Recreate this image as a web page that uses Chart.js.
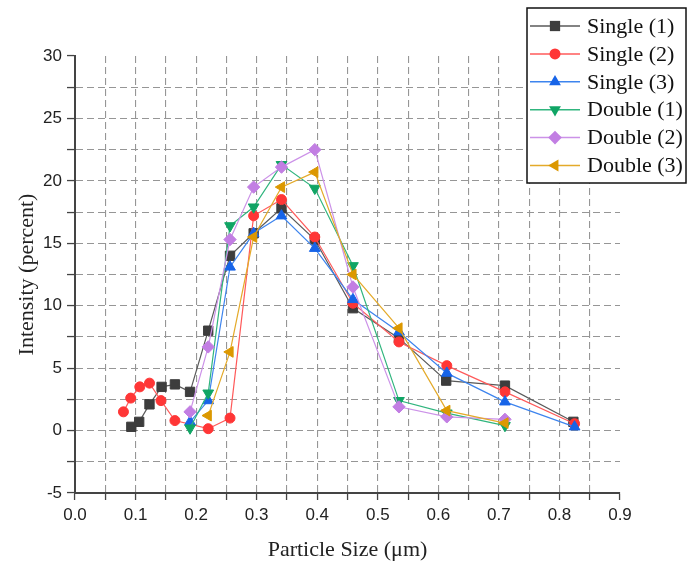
<!DOCTYPE html>
<html>
<head>
<meta charset="utf-8">
<script src="https://cdn.jsdelivr.net/npm/chart.js@4/dist/chart.umd.min.js"></script>
<style>
html, body { margin: 0; padding: 0; background: #fff; }
canvas { display: block; }
</style>
</head>
<body>
<canvas id="myChart" width="687" height="563"></canvas>
<script>
// series names, in legend order
const seriesNames = ["Single (1)", "Single (2)", "Single (3)", "Double (1)", "Double (2)", "Double (3)"];

// particle size (um) and intensity (percent)
const single1X = [0.093, 0.106, 0.123, 0.143, 0.165, 0.19, 0.22, 0.256, 0.295, 0.341, 0.396, 0.459, 0.535, 0.613, 0.71, 0.823];
const single1Y = [0.3, 0.7, 2.1, 3.5, 3.7, 3.1, 8.0, 14.0, 15.8, 17.8, 15.3, 9.8, 7.4, 4.0, 3.6, 0.7];

const single2X = [0.08, 0.092, 0.107, 0.123, 0.142, 0.165, 0.22, 0.256, 0.295, 0.341, 0.396, 0.459, 0.535, 0.614, 0.71, 0.825];
const single2Y = [1.5, 2.6, 3.5, 3.8, 2.4, 0.8, 0.15, 1.0, 17.2, 18.5, 15.5, 10.2, 7.1, 5.2, 3.1, 0.55];

const single3X = [0.19, 0.22, 0.256, 0.295, 0.341, 0.396, 0.459, 0.535, 0.614, 0.71, 0.825];
const single3Y = [0.7, 2.4, 13.1, 15.8, 17.2, 14.6, 10.5, 7.9, 4.6, 2.3, 0.3];

const double1X = [0.19, 0.22, 0.256, 0.295, 0.341, 0.396, 0.459, 0.535, 0.614, 0.71];
const double1Y = [0.2, 3.0, 16.4, 17.9, 21.3, 19.4, 13.2, 2.4, 1.4, 0.4];

const double2X = [0.19, 0.22, 0.256, 0.295, 0.341, 0.396, 0.459, 0.535, 0.614, 0.71];
const double2Y = [1.5, 6.7, 15.3, 19.5, 21.1, 22.5, 11.5, 1.9, 1.1, 0.9];

const double3X = [0.22, 0.256, 0.295, 0.341, 0.396, 0.459, 0.535, 0.614, 0.71];
const double3Y = [1.2, 6.3, 15.5, 19.5, 20.7, 12.5, 8.2, 1.6, 0.6];

const xValues = [single1X, single2X, single3X, double1X, double2X, double3X];
const yValues = [single1Y, single2Y, single3Y, double1Y, double2Y, double3Y];

// styles
const markColors = ["#3d3d3d", "#ff3636", "#1764e8", "#10a565", "#c27ee3", "#dc9800"];
const lineColors = ["#5a5a5a", "#ff5a5a", "#3d84ee", "#30b57e", "#cc92e8", "#e4aa2a"];
const pointStyles = ["rect", "circle", "triangle", "triangle", "rectRot", "triangle"];
const pointRotations = [0, 0, 0, 180, 0, 270];
const pointRadii = [6.6, 5, 6.2, 6.2, 6.2, 6.2];

const datasets = seriesNames.map((name, i) => {
    let pts = [];
    for (let j = 0; j < xValues[i].length; j++) {
        pts.push({ x: xValues[i][j], y: yValues[i][j] });
    }
    return {
        label: name,
        data: pts,
        borderColor: lineColors[i],
        borderWidth: 1.2,
        backgroundColor: markColors[i],
        pointBackgroundColor: markColors[i],
        pointBorderColor: markColors[i],
        pointBorderWidth: 1,
        pointStyle: pointStyles[i],
        pointRotation: pointRotations[i],
        pointRadius: pointRadii[i],
        tension: 0,
        order: 5 - i
    };
});

function drawMarker(ctx, style, rot, x, y, r, color) {
    ctx.save();
    ctx.translate(x, y);
    ctx.rotate(rot * Math.PI / 180);
    ctx.fillStyle = color;
    ctx.beginPath();
    if (style === "rect") {
        let s = r * Math.SQRT1_2;
        ctx.rect(-s, -s, 2 * s, 2 * s);
    } else if (style === "circle") {
        ctx.arc(0, 0, r, 0, Math.PI * 2);
    } else if (style === "rectRot") {
        ctx.moveTo(0, -r); ctx.lineTo(r, 0); ctx.lineTo(0, r); ctx.lineTo(-r, 0);
    } else {
        for (let k = 0; k < 3; k++) {
            let a = k * 2 * Math.PI / 3;
            ctx.lineTo(Math.sin(a) * r, -Math.cos(a) * r);
        }
    }
    ctx.closePath();
    ctx.fill();
    ctx.restore();
}

const boxLegend = {
    id: "boxLegend",
    afterDraw(chart) {
        const ctx = chart.ctx;
        ctx.save();
        ctx.fillStyle = "#fff";
        ctx.fillRect(527, 8, 159, 175);
        ctx.strokeStyle = "#111";
        ctx.lineWidth = 1.5;
        ctx.strokeRect(527, 8, 159, 175);
        ctx.font = "22px 'Liberation Serif', 'Times New Roman', serif";
        ctx.textBaseline = "middle";
        for (let i = 0; i < seriesNames.length; i++) {
            let y = 26 + i * 27.9;
            ctx.strokeStyle = lineColors[i];
            ctx.lineWidth = 1.5;
            ctx.beginPath();
            ctx.moveTo(530, y);
            ctx.lineTo(580, y);
            ctx.stroke();
            drawMarker(ctx, pointStyles[i], pointRotations[i], 555, y, pointRadii[i] * 1.1, markColors[i]);
            ctx.fillStyle = "#111";
            ctx.fillText(seriesNames[i], 587, y + 1);
        }
        ctx.restore();
    }
};

const gridColor = "#969696";
const axisColor = "#444";

const ctx = document.getElementById("myChart").getContext("2d");
const myChart = new Chart(ctx, {
    type: "line",
    data: { datasets: datasets },
    plugins: [boxLegend],
    options: {
        responsive: false,
        animation: false,
        layout: { padding: { left: 0, right: 67, top: 56, bottom: 0 } },
        plugins: {
            legend: { display: false },
            tooltip: { enabled: false }
        },
        scales: {
            x: {
                type: "linear",
                min: 0,
                max: 0.9,
                afterFit: (scale) => { scale.height = 70; },
                ticks: {
                    stepSize: 0.05,
                    autoSkip: false,
                    maxRotation: 0,
                    padding: 5,
                    color: "#222",
                    font: { family: "'Liberation Sans', Arial, sans-serif", size: 17 },
                    callback: (v) => (Math.round(v * 100) % 10 === 0 ? v.toFixed(1) : "")
                },
                grid: {
                    color: (c) => {
                        let v = c.tick ? Math.round(c.tick.value * 100) : 0;
                        return (v === 0 || v === 90) ? "rgba(0,0,0,0)" : gridColor;
                    },
                    lineWidth: 1.1,
                    drawTicks: true,
                    tickLength: 7,
                    tickColor: axisColor,
                    tickWidth: 1.3
                },
                border: { display: true, color: axisColor, width: 2, dash: [7, 4] },
                title: {
                    display: true,
                    text: "Particle Size (\u03bcm)",
                    color: "#222",
                    font: { family: "'Liberation Serif', 'Times New Roman', serif", size: 22 },
                    padding: { top: 4, bottom: 0 }
                }
            },
            y: {
                min: -5,
                max: 30,
                afterFit: (scale) => { scale.width = 75; },
                ticks: {
                    stepSize: 2.5,
                    autoSkip: false,
                    padding: 5,
                    color: "#222",
                    font: { family: "'Liberation Sans', Arial, sans-serif", size: 17 },
                    callback: (v) => (Math.round(v * 10) % 50 === 0 ? String(v) : "")
                },
                grid: {
                    color: (c) => {
                        let v = c.tick ? c.tick.value : 0;
                        return (v === -5 || v === 30) ? "rgba(0,0,0,0)" : gridColor;
                    },
                    lineWidth: 1.1,
                    drawTicks: true,
                    tickLength: 8,
                    tickColor: axisColor,
                    tickWidth: 1.3
                },
                border: { display: true, color: axisColor, width: 2, dash: [7, 4] },
                title: {
                    display: true,
                    text: "Intensity (percent)",
                    color: "#222",
                    font: { family: "'Liberation Serif', 'Times New Roman', serif", size: 22 },
                    padding: { top: 14, bottom: 0 }
                }
            }
        }
    }
});
</script>
</body>
</html>
